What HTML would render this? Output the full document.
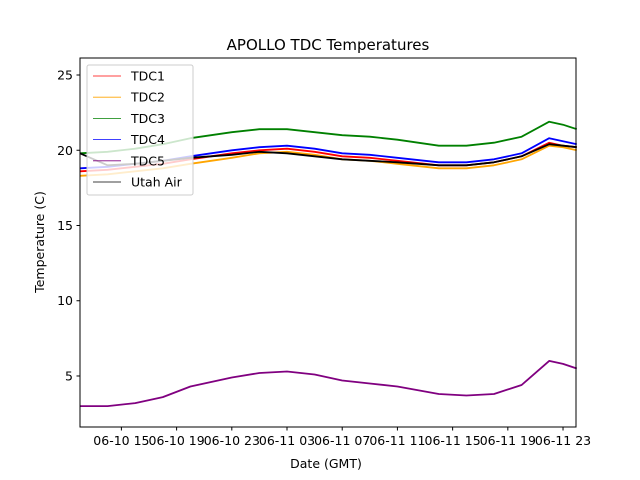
<!DOCTYPE html>
<html><head><meta charset="utf-8"><style>
body{margin:0;background:#fff;}
svg{display:block;font-family:"DejaVu Sans","Liberation Sans",sans-serif;}
</style></head><body>
<svg id="c" width="640" height="480" xmlns="http://www.w3.org/2000/svg"></svg>
<script>
const hours = [12,14,16,18,20,23,25,27,29,31,33,35,38,40,42,44,46,47,48];
const tdc3 = [19.8,19.9,20.1,20.4,20.8,21.2,21.4,21.4,21.2,21.0,20.9,20.7,20.3,20.3,20.5,20.9,21.9,21.7,21.4];
const tdc4 = [18.8,18.9,19.1,19.3,19.6,20.0,20.2,20.3,20.1,19.8,19.7,19.5,19.2,19.2,19.4,19.8,20.8,20.6,20.4];
const tdc1 = [18.6,18.7,18.9,19.1,19.4,19.8,20.0,20.1,19.9,19.6,19.5,19.3,19.0,19.0,19.2,19.6,20.5,20.3,20.2];
const tdc2 = [18.3,18.4,18.6,18.8,19.1,19.5,19.8,19.9,19.7,19.4,19.3,19.1,18.8,18.8,19.0,19.4,20.3,20.2,20.0];
const tdc5 = [3.0,3.0,3.2,3.6,4.3,4.9,5.2,5.3,5.1,4.7,4.5,4.3,3.8,3.7,3.8,4.4,6.0,5.8,5.5];
const utah = [19.8,19.0,19.1,19.3,19.5,19.7,19.9,19.8,19.6,19.4,19.3,19.2,19.0,19.0,19.2,19.6,20.4,20.3,20.2];
const series = [["TDC1",tdc1,"red"],["TDC2",tdc2,"orange"],["TDC3",tdc3,"green"],["TDC4",tdc4,"blue"],["TDC5",tdc5,"purple"],["Utah Air",utah,"black"]];
const yTicks = [5,10,15,20,25];
const xTickHours = [15,19,23,27,31,35,39,43,47];
const xTickLabels = ["06-10 15","06-10 19","06-10 23","06-11 03","06-11 07","06-11 11","06-11 15","06-11 19","06-11 23"];

const L=80,R=576,T=58,B=427, X0=12.0, X1=47.94, Y0=1.61, Y1=26.13;
const sx=h=>L+(h-X0)/(X1-X0)*(R-L);
const sy=v=>B-(v-Y0)/(Y1-Y0)*(B-T);
const svg=document.getElementById('c');
const NS="http://www.w3.org/2000/svg";
function mk(tag,attrs,parent){const e=document.createElementNS(NS,tag);for(const k in attrs)e.setAttribute(k,attrs[k]);(parent||svg).appendChild(e);return e;}

const plot=mk('g',{});


series.forEach(s=>{
  const pts=hours.map((h,i)=>sx(h).toFixed(1)+","+sy(s[1][i]).toFixed(1)).join(" ");
  const p=mk('polyline',{points:pts,fill:'none',stroke:s[2],'stroke-width':1.8,'stroke-linejoin':'round'},plot);
  
  
});
const fr=mk('rect',{x:L,y:T,width:R-L,height:B-T,fill:'none',stroke:'#000','stroke-width':1});


yTicks.forEach(v=>{
  const y=sy(v);
  mk('line',{x1:L-3.5,x2:L,y1:y,y2:y,stroke:'#000'});
  const t=mk('text',{x:L-7,y:y+4.5,'text-anchor':'end','font-size':12.5});
  t.textContent=v;
  
  
});
xTickHours.forEach((h,i)=>{
  const x=sx(h);
  mk('line',{x1:x,x2:x,y1:B,y2:B+3.5,stroke:'#000'});
  const t=mk('text',{x:x,y:B+18,'text-anchor':'middle','font-size':12.5});
  t.textContent=xTickLabels[i];
  
  
});
const tt=mk('text',{x:328,y:50,'text-anchor':'middle','font-size':15});
tt.textContent="APOLLO TDC Temperatures";


const xt=mk('text',{x:326,y:468,'text-anchor':'middle','font-size':12.5});
xt.textContent="Date (GMT)";


const yt=mk('text',{x:0,y:0,'text-anchor':'middle','font-size':12.5,transform:'translate(44,242) rotate(-90)'});
yt.textContent="Temperature (C)";


const lg=mk('g',{});


mk('rect',{x:87,y:65,width:106,height:130,rx:2,fill:'rgba(255,255,255,0.8)',stroke:'#ccc'},lg);
series.forEach((s,i)=>{
  const y=76+i*21.2;
  mk('line',{x1:93,x2:121,y1:y,y2:y,stroke:s[2],'stroke-width':0.8},lg);
  const t=mk('text',{x:131,y:y+4.5,'font-size':12.5},lg);
  t.textContent=s[0];
  
  
});
</script>
</body></html>
